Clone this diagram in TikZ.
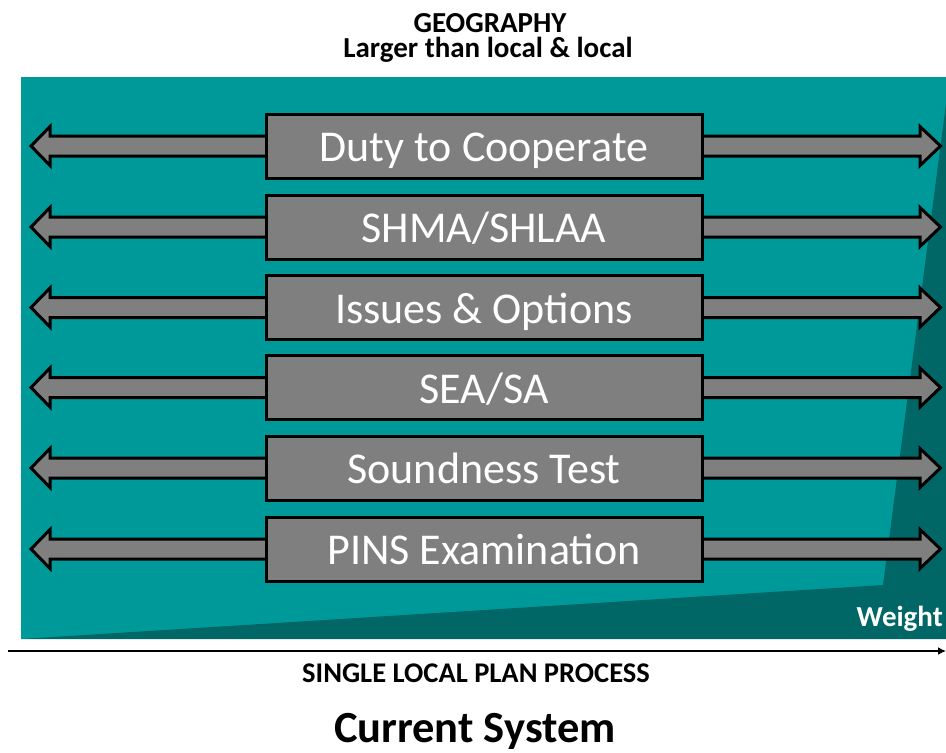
\documentclass[tikz,border=0pt]{standalone}
\usepackage{fontspec}
\setmainfont{Carlito}
\usetikzlibrary{calc,arrows.meta}
\definecolor{tealbg}{RGB}{0,153,153}
\definecolor{tealdark}{RGB}{0,102,102}
\definecolor{boxgray}{RGB}{127,127,127}
\tikzset{
  stagebox/.style={draw=black, line width=3pt, fill=boxgray, minimum width=436pt, minimum height=64pt, inner sep=0pt, text height=31pt, text depth=0pt, text=white, font=\fontsize{44}{50}\selectfont},
  arrowbody/.style={draw=black, line width=3pt, fill=boxgray, line join=miter},
  heading/.style={anchor=base, inner sep=0pt, font=\bfseries\fontsize{29}{34}\selectfont},
}
\begin{document}
\begin{tikzpicture}[x=1pt,y=-1pt]
\useasboundingbox (0,0) rectangle (946,753);
% background
\fill[tealbg] (21,77) rectangle (946,639);
\fill[tealdark] (883,585) -- (946,104) -- (946,639) -- (21,639) -- cycle;
% rows
\foreach \name/\yy/\txt in {r1/146/{Duty to Cooperate}, r2/227/{SHMA/SHLAA}, r3/307.5/{Issues \& Options}, r4/387.5/{SEA/SA}, r5/468/{Soundness Test}, r6/549/{PINS Examination}}{
  \coordinate (\name l) at (31,\yy);
  \draw[arrowbody] (\name l) -- ++(19,-19.5) -- ++(0,9.5) -- ++(870,0) -- ++(0,-9.5) -- ++(20.5,19.5) -- ++(-20.5,19.5) -- ++(0,-9.5) -- ++(-870,0) -- ++(0,9.5) -- cycle;
  \node[stagebox] (\name) at (484,\yy) {\txt};
}
% axis arrow
\coordinate (axs) at (8,651);
\coordinate (axe) at (946,651);
\draw[line width=2.5pt, -{Latex[length=8pt,width=8pt]}] (axs) -- (axe);
% texts
\node[heading, text height=19pt, text depth=0pt] (geo) at (490,32) {GEOGRAPHY};
\node[heading, text height=20pt, text depth=5pt] (geo2) at (488,57) {Larger than local \& local};
\node[heading, text=white, anchor=base east] (weight) at (943,626) {Weight};
\node[heading, font=\bfseries\fontsize{28.5}{34}\selectfont] (slp) at (476,682) {SINGLE LOCAL PLAN PROCESS};
\node[anchor=base, inner sep=0pt, font=\bfseries\fontsize{44.5}{50}\selectfont] (cur) at (475,742) {Current System};
\end{tikzpicture}
\end{document}
